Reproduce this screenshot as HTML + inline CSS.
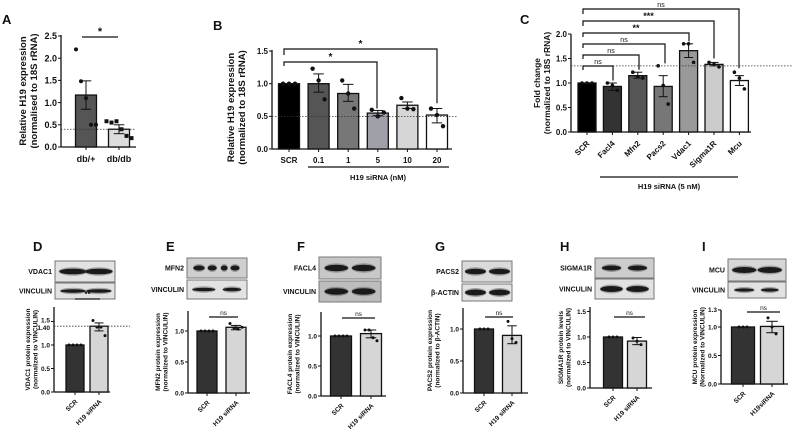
<!DOCTYPE html>
<html><head><meta charset="utf-8">
<style>
html,body{margin:0;padding:0;background:#fff;}
svg{display:block;font-family:"Liberation Sans",Arial,sans-serif;}
</style></head>
<body>
<svg id="fig" width="798" height="436" viewBox="0 0 798 436" xmlns="http://www.w3.org/2000/svg"></svg>
<script>
// ---------- DATA ----------
const aCats = ["db/+","db/db"];
const aMeans = [1.17,0.40];
const aLo = [0.85,0.30];
const aHi = [1.49,0.50];
const aPts = [[2.2,1.48,1.1,0.5,0.5],[0.58,0.55,0.58,0.4,0.25,0.2]];
const aTicks = [0,0.5,1.0,1.5,2.0,2.5];

const bCats = ["SCR","0.1","1","5","10","20"];
const bMeans = [1.0,1.0,0.85,0.55,0.67,0.52];
const bLo = [1.0,0.87,0.73,0.51,0.62,0.40];
const bHi = [1.0,1.15,0.99,0.59,0.72,0.62];
const bPts = [[1,1,1],[1.23,1.05,0.76],[1.05,0.85,0.62],[0.6,0.5,0.56],[0.78,0.62,0.61],[0.62,0.52,0.35]];
const bTicks = [0,0.5,1.0,1.5];

const cCats = ["SCR","Facl4","Mfn2","Pacs2","Vdac1","Sigma1R","Mcu"];
const cMeans = [1.0,0.93,1.15,0.93,1.66,1.38,1.05];
const cLo = [1.0,0.85,1.1,0.72,1.52,1.35,0.95];
const cHi = [1.0,1.0,1.22,1.15,1.8,1.42,1.15];
const cPts = [[1,1,1],[1.0,0.95,0.85],[1.22,1.13,1.1],[1.35,0.95,0.57],[1.8,1.8,1.42],[1.42,1.38,1.33],[1.22,1.1,0.88]];
const cTicks = [0,0.5,1.0,1.5,2.0];

const dMeans = [1.0,1.40]; const dLo=[1.0,1.3]; const dHi=[1.0,1.47];
const dPts = [[1,1,1,1],[1.52,1.38,1.38,1.2]]; const dTicks=[0,0.5,1.0,1.5];
const eMeans = [1.0,1.06]; const eLo=[1.0,1.02]; const eHi=[1.0,1.09];
const ePts = [[1,1,1,1],[1.12,1.05,1.03,1.06]]; const eTicks=[0,0.5,1.0];
const fMeans = [1.0,1.04]; const fLo=[1.0,0.97]; const fHi=[1.0,1.1];
const fPts = [[1,1,1,1],[1.1,1.1,0.97,0.92]]; const fTicks=[0,0.5,1.0];
const gMeans = [1.0,0.9]; const gLo=[1.0,0.77]; const gHi=[1.0,1.05];
const gPts = [[1,1,1],[1.12,0.85,0.79]]; const gTicks=[0,0.5,1.0];
const hMeans = [1.0,0.92]; const hLo=[1.0,0.85]; const hHi=[1.0,0.99];
const hPts = [[1,1,1],[0.98,0.92,0.85]]; const hTicks=[0,0.5,1.0,1.5];
const iMeans = [1.0,1.01]; const iLo=[1.0,0.9]; const iHi=[1.0,1.1];
const iPts = [[1,1,1],[1.16,1.0,0.88]]; const iTicks=[0,0.5,1.0,1.3];

// ---------- DRAW ----------
const svg = document.getElementById('fig');
const NS = "http://www.w3.org/2000/svg";
function mk(tag, attrs, parent){ const e=document.createElementNS(NS,tag); for(const k in attrs) e.setAttribute(k,attrs[k]); (parent||svg).appendChild(e); return e; }
function txt(x,y,s,size,opts,parent){ const t=mk('text',Object.assign({x:x,y:y,'font-size':size,'font-weight':'bold',fill:'#111'},opts||{}),parent); t.textContent=s; return t; }

function panel(p, name, cats, means, lo, hi, pts, ticks, fills){
  const g = mk('g',{});
  
  
  const Y = v => p.y0 - v*p.ppu;
  const X = i => p.c0 + i*p.step;
  const ax = mk('line',{x1:p.x0,y1:p.top,x2:p.x0,y2:p.y0,stroke:'#111','stroke-width':1.3},g);
  
  
  mk('line',{x1:p.x0,y1:p.y0,x2:p.xEnd,y2:p.y0,stroke:'#111','stroke-width':1.3},g);
  ticks.forEach(t=>{
    mk('line',{x1:p.x0-3,y1:Y(t),x2:p.x0,y2:Y(t),stroke:'#111','stroke-width':1},g);
    const lab = txt(p.x0-4,Y(t)+p.fs*0.35,(t===0?'0.0':(Number.isInteger(t)?t.toFixed(1):String(t))),p.fs,{'text-anchor':'end'},g);
    
    
  });
  cats.forEach((c,i)=>{
    const cx=X(i);
    const r = mk('rect',{x:cx-p.bw/2,y:Y(means[i]),width:p.bw,height:p.y0-Y(means[i]),fill:fills[i],stroke:'#111','stroke-width':1.3},g);
    
    
    mk('line',{x1:cx,y1:Y(lo[i]),x2:cx,y2:Y(hi[i]),stroke:'#111','stroke-width':1},g);
    mk('line',{x1:cx-p.bw*0.25,y1:Y(hi[i]),x2:cx+p.bw*0.25,y2:Y(hi[i]),stroke:'#111','stroke-width':1},g);
    mk('line',{x1:cx-p.bw*0.25,y1:Y(lo[i]),x2:cx+p.bw*0.25,y2:Y(lo[i]),stroke:'#111','stroke-width':1},g);
    mk('line',{x1:cx,y1:p.y0,x2:cx,y2:p.y0+3,stroke:'#111','stroke-width':1},g);
    const n=pts[i].length;
    pts[i].forEach((v,j)=>{
      const px = cx + (j-(n-1)/2)*p.jit;
      let d;
      if(p.sq && p.sq[i]) d=mk('rect',{x:px-p.pr,y:Y(v)-p.pr,width:2*p.pr,height:2*p.pr,fill:'#111'},g);
      else d=mk('circle',{cx:px,cy:Y(v),r:p.pr,fill:'#111'},g);
      
      
    });
    let lab;
    if(p.rot){
      lab = txt(cx+3,p.y0+p.ly,c,p.lfs,{'text-anchor':'end',transform:'rotate(-45 '+(cx+3)+' '+(p.y0+p.ly)+')'},g);
    } else {
      lab = txt(cx,p.y0+p.ly,c,p.lfs,{'text-anchor':'middle'},g);
    }
    
    
  });
  if(p.dot!==undefined){
    mk('line',{x1:p.x0,y1:Y(p.dot),x2:p.dotEnd,y2:Y(p.dot),stroke:'#333','stroke-width':0.8,'stroke-dasharray':'1.5,1.5'},g);
  }
  const tx=p.tx, ty=(p.top+p.y0)/2+p.tyo;
  const t1=txt(tx,ty,p.t1,p.tfs,{'text-anchor':'middle',transform:'rotate(-90 '+tx+' '+ty+')'},g);
  
  
  const t2=txt(tx+p.tfs*1.15,ty,p.t2,p.tfs,{'text-anchor':'middle',transform:'rotate(-90 '+(tx+p.tfs*1.15)+' '+ty+')'},g);
  
  
  return {Y,X,g};
}
function bracket(g,x1,x2,y,y1b,y2b,label,fs){
  mk('path',{d:'M'+x1+' '+y1b+' L'+x1+' '+y+' L'+x2+' '+y+' L'+x2+' '+y2b,fill:'none',stroke:'#111','stroke-width':1.2},g);
  const t=txt((x1+x2)/2,y-2,label,fs,{'text-anchor':'middle','font-weight':label==='ns'?'normal':'bold'},g);
  
  
}
function sigline(g,x1,x2,y,label,fs){
  mk('line',{x1:x1,y1:y,x2:x2,y2:y,stroke:'#111','stroke-width':1.2},g);
  const t=txt((x1+x2)/2,y-2,label,fs,{'text-anchor':'middle','font-weight':label==='ns'?'normal':'bold'},g);
  
  
}
function letter(x,y,s){ const t=txt(x,y,s,13,{});   }
function blot(x,y,w,h,label,bands,bh,bg){
  const g=mk('g',{});
  
  
  mk('rect',{x:x,y:y,width:w,height:h,fill:bg||'#e2e2e2',stroke:'#777','stroke-width':1},g);
  bands.forEach(b=>{
    mk('ellipse',{cx:x+b[0]*w,cy:y+h/2,rx:b[1]*w,ry:bh+1.5,fill:'#666',opacity:0.5},g);
    mk('ellipse',{cx:x+b[0]*w,cy:y+h/2,rx:b[1]*w*0.95,ry:bh,fill:'#1a1a1a'},g);
  });
  const t=txt(x-3,y+h/2+2.5,label,7,{'text-anchor':'end'},g);
  
  
}

// Panel A
letter(2,24,'A');
const pa = panel({x0:61,y0:147,ppu:44.4,top:35,xEnd:136,c0:86,step:33,bw:21,jit:5,pr:2,sq:[false,true],fs:9,lfs:9,ly:15,dot:0.4,dotEnd:136,tx:26,tyo:0,tfs:9.5,t1:'Relative H19 expression',t2:'(normalised to 18S rRNA)'},'panel-a-chart',aCats,aMeans,aLo,aHi,aPts,aTicks,['#555','#dcdcdc']);
sigline(pa.g,82,118,37,'*',11);

// Panel B
letter(213,30,'B');
const pb = panel({x0:272,y0:149,ppu:65.3,top:50,xEnd:452,c0:289,step:29.6,bw:21,jit:6,pr:2.2,fs:8,lfs:8,ly:14,dot:0.5,dotEnd:458,tx:234,tyo:8,tfs:9.5,t1:'Relative H19 expression',t2:'(normalized to 18S rRNA)'},'panel-b-chart',bCats,bMeans,bLo,bHi,bPts,bTicks,['#000','#555','#777','#a0a0a8','#d6d6d6','#fff']);
bracket(pb.g,284,437,49,55,pb.Y(0.7),'*',10);
bracket(pb.g,284,377,62,66,pb.Y(0.62),'*',10);
mk('line',{x1:308,y1:167,x2:449,y2:167,stroke:'#111','stroke-width':1.2},pb.g);
txt(378,180,'H19 siRNA (nM)',7.5,{'text-anchor':'middle'},pb.g);

// Panel C
letter(520,24,'C');
const pc = panel({x0:571,y0:132,ppu:49,top:34,xEnd:751,c0:587,step:25.4,bw:18,jit:5,pr:1.8,rot:true,fs:8,lfs:8,ly:12,dot:1.35,dotEnd:792,tx:540,tyo:0,tfs:8.5,t1:'Fold change',t2:'(normalized to 18S rRNA)'},'panel-c-chart',cCats,cMeans,cLo,cHi,cPts,cTicks,['#000','#333','#555','#777','#999','#ccc','#fff']);
bracket(pc.g,583,739,9,14,pc.Y(1.3),'ns',7);
bracket(pc.g,583,714,21,26,pc.Y(1.5),'***',9);
bracket(pc.g,583,689,33,37,pc.Y(1.85),'**',9);
bracket(pc.g,583,665,44,48,pc.Y(1.4),'ns',7);
bracket(pc.g,583,639,55,59,pc.Y(1.27),'ns',7);
bracket(pc.g,583,613,66,70,pc.Y(1.05),'ns',7);
mk('line',{x1:600,y1:177,x2:738,y2:177,stroke:'#111','stroke-width':1.2},pc.g);
txt(669,189,'H19 siRNA (5 nM)',7.5,{'text-anchor':'middle'},pc.g);

// Bottom panels
const cats2 = ["SCR","H19 siRNA"];
const fill2 = ['#333','#d6d6d6'];
function bottom(p,name,means,lo,hi,pts,ticks,labels){ return panel(Object.assign({bw:18,jit:4,pr:1.5,rot:true,fs:6.5,lfs:6.5,ly:10,tfs:6.5,tyo:0},p),name,labels||cats2,means,lo,hi,pts,ticks,fill2); }

letter(33,251,'D');
blot(55,261,60,21,'VDAC1',[[0.3,0.24],[0.73,0.24]],2.8);
blot(55,283,60,16,'VINCULIN',[[0.3,0.22],[0.73,0.22]],1.8);
const pd=bottom({x0:54,y0:392,ppu:47,top:307,xEnd:110,c0:75,step:24,dot:1.4,dotEnd:130,tx:30,t1:'VDAC1 protein expression',t2:'(normalized to VINCULIN)'},'panel-d-chart',dMeans,dLo,dHi,dPts,dTicks.filter(t=>t!==1.5));
mk('line',{x1:51,y1:pd.Y(1.5),x2:54,y2:pd.Y(1.5),stroke:'#111'},pd.g);
txt(50,pd.Y(1.5)+1,'1.5',6.5,{'text-anchor':'end'},pd.g);
txt(50,pd.Y(1.4)+4,'1.40',6.5,{'text-anchor':'end'},pd.g);
sigline(pd.g,75,100,299,'**',8);

letter(166,251,'E');
blot(187,258,60,20,'MFN2',[[0.2,0.1],[0.42,0.08],[0.62,0.06],[0.8,0.08]],2.5,'#cfcfcf');
blot(187,280,60,19,'VINCULIN',[[0.28,0.2],[0.75,0.16]],1.8);
const pe=bottom({x0:188,y0:393,ppu:62,top:311,xEnd:250,c0:207,step:29,bw:20,tx:160,t1:'MFN2 protein expression',t2:'(normalized to VINCULIN)'},'panel-e-chart',eMeans,eLo,eHi,ePts,eTicks);
sigline(pe.g,209,238,317,'ns',6.5);

letter(297,251,'F');
blot(319,257,62,22,'FACL4',[[0.28,0.2],[0.72,0.2]],3.2,'#c8c8c8');
blot(319,281,62,21,'VINCULIN',[[0.28,0.2],[0.72,0.2]],3.2,'#bdbdbd');
const pf=bottom({x0:321,y0:396,ppu:60,top:312,xEnd:386,c0:341,step:30,bw:21,tx:292,t1:'FACL4 protein expression',t2:'(normalized to VINCULIN)'},'panel-f-chart',fMeans,fLo,fHi,fPts,fTicks);
sigline(pf.g,342,375,318,'ns',6.5);

letter(435,251,'G');
blot(462,261,50,21,'PACS2',[[0.27,0.22],[0.75,0.22]],2.8,'#dadada');
blot(462,284,50,17,'β-ACTIN',[[0.27,0.22],[0.75,0.22]],3);
const pg=bottom({x0:463,y0:393,ppu:64,top:308,xEnd:528,c0:484,step:28,bw:19,tx:432,t1:'PACS2 protein expression',t2:'(normalized to β-ACTIN)'},'panel-g-chart',gMeans,gLo,gHi,gPts,gTicks);
sigline(pg.g,485,513,317,'ns',6.5);

letter(560,251,'H');
blot(595,258,59,20,'SIGMA1R',[[0.28,0.17],[0.72,0.17]],2.5,'#cdcdcd');
blot(595,279,59,20,'VINCULIN',[[0.28,0.2],[0.72,0.2]],3);
const ph=bottom({x0:590,y0:388,ppu:51,top:307,xEnd:652,c0:613,step:24,bw:19,tx:563,t1:'SIGMA1R protein levels',t2:'(normalized to VINCULIN)'},'panel-h-chart',hMeans,hLo,hHi,hPts,hTicks);
sigline(ph.g,614,645,317,'ns',6.5);

letter(702,251,'I');
blot(728,259,58,22,'MCU',[[0.28,0.22],[0.72,0.22]],3,'#d6d6d6');
blot(728,282,58,16,'VINCULIN',[[0.28,0.18],[0.72,0.16]],1.6);
const pi=bottom({x0:721,y0:384,ppu:57,top:310,xEnd:788,c0:743,step:29,bw:23,tx:697,t1:'MCU protein expression',t2:'(Normalized to VINCULIN)'},'panel-i-chart',iMeans,iLo,iHi,iPts,iTicks,["SCR","H19siRNA"]);
sigline(pi.g,747,780,312,'ns',6.5);
</script>
</body></html>
